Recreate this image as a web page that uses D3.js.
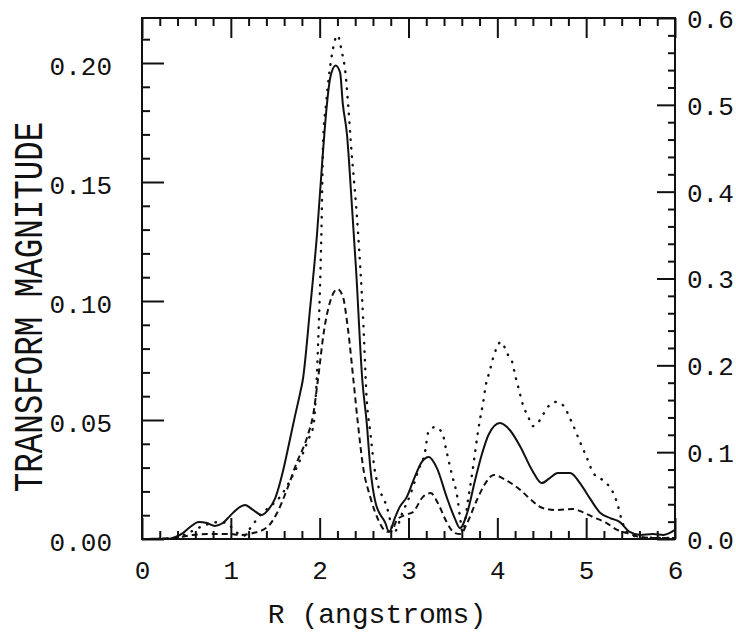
<!DOCTYPE html>
<html><head><meta charset="utf-8">
<script src="https://cdn.jsdelivr.net/npm/d3@7"></script>
<style>
body{margin:0;background:#fff;}
svg{display:block;}
text{font-family:"Liberation Mono","DejaVu Sans Mono",monospace;fill:#111;}
</style></head>
<body>
<script>
// ---- data ----
const solidR = [0,0.26,0.37,0.46,0.54,0.64,0.73,0.82,0.91,0.99,1.10,1.16,1.25,1.35,1.42,1.50,1.59,1.64,1.72,1.78,1.81,1.89,1.97,2.03,2.08,2.12,2.18,2.23,2.26,2.31,2.33,2.41,2.48,2.53,2.57,2.63,2.74,2.78,2.85,2.90,2.98,3.07,3.15,3.23,3.32,3.43,3.52,3.58,3.66,3.75,3.83,3.90,4.03,4.14,4.26,4.39,4.50,4.59,4.68,4.82,4.93,5.04,5.16,5.27,5.38,5.49,5.61,5.75,5.87,6.0];
const solidMag = [0,0,0.0008,0.0025,0.005,0.0071,0.0067,0.0055,0.0067,0.0097,0.0134,0.0143,0.0122,0.0101,0.0122,0.0172,0.029,0.0374,0.0513,0.0613,0.0668,0.096,0.128,0.159,0.182,0.194,0.199,0.196,0.183,0.169,0.159,0.113,0.0668,0.0487,0.030,0.0151,0.0067,0.003,0.0092,0.0134,0.0176,0.026,0.0324,0.0345,0.0298,0.0176,0.0088,0.0046,0.0109,0.0248,0.0361,0.0437,0.0487,0.0458,0.0387,0.029,0.0235,0.0256,0.0277,0.0277,0.0235,0.0172,0.0109,0.0088,0.0071,0.003,0.0017,0.0021,0.0017,0.0038];

const dashedR = [0,0.35,0.57,0.73,0.99,1.10,1.25,1.41,1.52,1.63,1.74,1.86,1.93,1.98,2.05,2.12,2.20,2.26,2.32,2.38,2.43,2.49,2.57,2.66,2.76,2.81,2.87,2.96,3.05,3.16,3.25,3.33,3.43,3.52,3.59,3.65,3.77,3.86,3.96,4.11,4.26,4.37,4.51,4.67,4.85,4.96,5.08,5.23,5.35,5.46,5.61,5.78,6.0];
const dashedMag = [0,0.0004,0.0017,0.0021,0.0021,0.0017,0.0025,0.005,0.0109,0.0206,0.0319,0.0429,0.0529,0.0668,0.0878,0.100,0.105,0.102,0.0878,0.0668,0.0487,0.030,0.0176,0.008,0.003,0.0034,0.008,0.0101,0.0113,0.0176,0.0193,0.0151,0.0071,0.0025,0.0021,0.0059,0.0164,0.0231,0.0269,0.0244,0.0206,0.0168,0.013,0.0122,0.0126,0.0113,0.0092,0.0067,0.0038,0.0025,0.0008,0.0004,0.0004];

// dotted series is read against the right-hand axis (0 - 0.6)
const dottedR = [0,0.37,0.54,0.71,0.88,0.97,1.06,1.14,1.22,1.31,1.38,1.46,1.55,1.67,1.78,1.87,1.93,1.98,2.02,2.04,2.07,2.14,2.20,2.25,2.29,2.32,2.35,2.43,2.49,2.53,2.57,2.62,2.76,2.84,2.93,3.02,3.11,3.19,3.22,3.30,3.38,3.43,3.49,3.55,3.58,3.61,3.67,3.71,3.80,3.84,3.87,3.91,3.97,4.04,4.12,4.17,4.20,4.23,4.29,4.35,4.40,4.48,4.56,4.67,4.74,4.84,4.93,5.01,5.08,5.21,5.29,5.35,5.40,5.46,5.61,6.0];
const dottedMag = [0,0.001,0.008,0.016,0.0196,0.017,0.008,0.0035,0.0127,0.025,0.032,0.039,0.048,0.068,0.091,0.114,0.131,0.218,0.356,0.462,0.499,0.559,0.580,0.561,0.537,0.501,0.458,0.356,0.252,0.160,0.123,0.0795,0.0357,0.008,0.030,0.051,0.079,0.1025,0.122,0.129,0.122,0.100,0.0737,0.048,0.025,0.008,0.045,0.071,0.135,0.157,0.177,0.192,0.214,0.227,0.212,0.203,0.189,0.177,0.154,0.140,0.130,0.137,0.151,0.158,0.154,0.134,0.112,0.093,0.076,0.066,0.056,0.041,0.022,0.008,0.002,0.001];

const xTicks = [0,1,2,3,4,5,6];
const yLeftTicks = [0,0.05,0.10,0.15,0.20];
const yRightTicks = [0,0.1,0.2,0.3,0.4,0.5,0.6];
const xLabel = "R (angstroms)";
const yLabel = "TRANSFORM MAGNITUDE";

// ---- layout ----
const W = 736, H = 634;
const L = 142, R = 675, T = 18, B = 539;

const x = d3.scaleLinear().domain([0,6]).range([L,R]);
const yL = d3.scaleLinear().domain([0,0.20]).range([B,63]);
const yR = d3.scaleLinear().domain([0,0.6]).range([B,T]);

const svg = d3.select("body").append("svg").attr("width",W).attr("height",H);

// frame
svg.append("rect").attr("x",L).attr("y",T).attr("width",R-L).attr("height",B-T)
  .attr("fill","none").attr("stroke","#111").attr("stroke-width",2);

function styleAxis(g){
  g.select(".domain").remove();
  g.selectAll("line").attr("stroke","#111").attr("stroke-width",2);
  g.selectAll("text").attr("font-size",26).attr("fill","#111")
   .style("font-family",'"Liberation Mono","DejaVu Sans Mono",monospace');
}

// minor ticks
const xMinor = d3.range(0,6.001,0.2).map(v=>+v.toFixed(2)).filter(v=>Math.abs(v-Math.round(v))>1e-6);
const yLMinor = d3.range(0,0.2191,0.01).map(v=>+v.toFixed(3)).filter(v=>Math.abs(v*20-Math.round(v*20))>1e-6);
const yRMinor = d3.range(0,0.601,0.02).map(v=>+v.toFixed(3)).filter(v=>Math.abs(v*10-Math.round(v*10))>1e-6);

// bottom
svg.append("g").attr("transform",`translate(0,${B})`)
  .call(d3.axisBottom(x).tickValues(xMinor).tickSize(-8).tickFormat("")).call(styleAxis);
svg.append("g").attr("transform",`translate(0,${B})`)
  .call(d3.axisBottom(x).tickValues(xTicks).tickSize(-21).tickPadding(22).tickFormat(d3.format("d"))).call(styleAxis);
// top
svg.append("g").attr("transform",`translate(0,${T})`)
  .call(d3.axisTop(x).tickValues(xMinor).tickSize(-8).tickFormat("")).call(styleAxis);
svg.append("g").attr("transform",`translate(0,${T})`)
  .call(d3.axisTop(x).tickValues(xTicks).tickSize(-20).tickFormat("")).call(styleAxis);
// left
svg.append("g").attr("transform",`translate(${L},0)`)
  .call(d3.axisLeft(yL).tickValues(yLMinor).tickSize(-8).tickFormat("")).call(styleAxis);
const gl = svg.append("g").attr("transform",`translate(${L},0)`)
  .call(d3.axisLeft(yL).tickValues(yLeftTicks).tickSize(-22).tickPadding(30).tickFormat(d3.format(".2f"))).call(styleAxis);
gl.selectAll("text").attr("dy","0.45em");
// right
svg.append("g").attr("transform",`translate(${R},0)`)
  .call(d3.axisRight(yR).tickValues(yRMinor).tickSize(-7).tickFormat("")).call(styleAxis);
const gr = svg.append("g").attr("transform",`translate(${R},0)`)
  .call(d3.axisRight(yR).tickValues(yRightTicks).tickSize(-18).tickPadding(12).tickFormat(d3.format(".1f"))).call(styleAxis);
gr.selectAll("text").attr("dy","0.36em");

// curves
const zip = (a,b)=>a.map((v,i)=>[v,b[i]]);
const lineL = d3.line().x(d=>x(d[0])).y(d=>yL(d[1])).curve(d3.curveMonotoneX);
const lineR = d3.line().x(d=>x(d[0])).y(d=>yR(d[1])).curve(d3.curveMonotoneX);

svg.append("path").datum(zip(dottedR,dottedMag)).attr("d",lineR)
  .attr("fill","none").attr("stroke","#111").attr("stroke-width",2.4)
  .attr("stroke-linecap","round").attr("stroke-dasharray","0.5,8");
svg.append("path").datum(zip(dashedR,dashedMag)).attr("d",lineL)
  .attr("fill","none").attr("stroke","#111").attr("stroke-width",2)
  .attr("stroke-dasharray","6,4");
svg.append("path").datum(zip(solidR,solidMag)).attr("d",lineL)
  .attr("fill","none").attr("stroke","#111").attr("stroke-width",2);

// axis titles
svg.append("text").attr("x",377).attr("y",623).attr("text-anchor","middle")
  .attr("font-size",28).text(xLabel);
svg.append("text").attr("transform","translate(42,307) rotate(-90) scale(1,1.25)")
  .attr("text-anchor","middle").attr("font-size",32.5).text(yLabel);
</script>
</body></html>
